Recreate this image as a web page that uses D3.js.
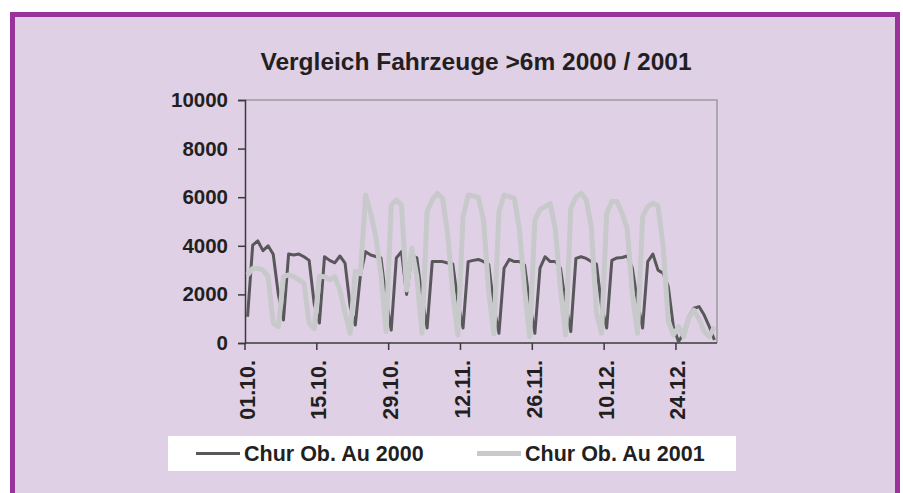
<!DOCTYPE html>
<html>
<head>
<meta charset="utf-8">
<script src="https://cdn.jsdelivr.net/npm/d3@7"></script>
<style>
  body { margin: 0; background: #fff; }
  svg { display: block; font-family: "Liberation Sans", Arial, sans-serif; font-weight: bold; }
</style>
</head>
<body>
<svg id="chart" width="903" height="493"></svg>
<script>
// daily counts, 01.10. - 31.12.
const series2000 = [
  1080, 4030, 4200, 3800, 4000, 3650, 2000, 950,
  3660, 3620, 3660, 3550, 3400, 1600, 820,
  3550, 3400, 3300, 3580, 3290, 1500, 740,
  2800, 3760, 3620, 3560, 3500, 1800, 530,
  3500, 3760, 2000, 3600, 3500, 1900, 620,
  3350, 3350, 3350, 3290, 3250, 1700, 620,
  3350, 3400, 3440, 3350, 3240, 1500, 400,
  3080, 3440, 3350, 3350, 3200, 1600, 400,
  3080, 3550, 3350, 3350, 3080, 1600, 470,
  3480, 3550, 3480, 3350, 3250, 1500, 620,
  3400, 3500, 3520, 3580, 3080, 1700, 620,
  3350, 3660, 3000, 2870, 2320, 670, 50,
  400, 1100, 1430, 1500, 1150, 670, 120
];
const series2001 = [
  2800, 3070, 3070, 3000, 2730, 810, 670,
  2730, 2800, 2730, 2600, 2460, 810, 600,
  2750, 2730, 2600, 2730, 2180, 1230, 400,
  2950, 2850, 6090, 5340, 4370, 2800, 470,
  5680, 5880, 5680, 2180, 3900, 2730, 400,
  5400, 5900, 6160, 5950, 4510, 2040, 330,
  5200, 6090, 6050, 5980, 5050, 2100, 380,
  5400, 6090, 6020, 5950, 4650, 2180, 260,
  5060, 5500, 5610, 5750, 4650, 2180, 330,
  5540, 6000, 6160, 5900, 4790, 1230, 400,
  5340, 5820, 5820, 5340, 4700, 2000, 400,
  5200, 5610, 5750, 5650, 4000, 900, 330,
  670, 260, 1050, 1350, 1000, 470, 260, 670
];
const seriesNames = ["Chur Ob. Au 2000", "Chur Ob. Au 2001"];
const xTickLabels = ["01.10.", "15.10.", "29.10.", "12.11.", "26.11.", "10.12.", "24.12."];
const yTicks = [0, 2000, 4000, 6000, 8000, 10000];

const fmtDay = d3.timeFormat("%d.%m.");
const days = d3.timeDays(new Date(2000, 9, 1), new Date(2001, 0, 1)).map(fmtDay);

const svg = d3.select("#chart");
const textColor = "#231f20";
const darkLine = "#58585a";
const lightLine = "#c8c9cb";

// frame
svg.append("rect")
  .attr("x", 12.5).attr("y", 14.5)
  .attr("width", 885).attr("height", 520)
  .attr("fill", "#e0d0e6")
  .attr("stroke", "#993399")
  .attr("stroke-width", 5);

svg.append("text")
  .attr("x", 476).attr("y", 70)
  .attr("text-anchor", "middle")
  .attr("font-size", 24.5)
  .attr("fill", textColor)
  .text("Vergleich Fahrzeuge >6m 2000 / 2001");

const x = d3.scaleBand().domain(days).range([245, 717]);
const y = d3.scaleLinear().domain([0, 10000]).range([343, 100]);
const cx = (i) => x(days[i]) + x.bandwidth() / 2;

// plot border (top/right)
svg.append("path")
  .attr("d", `M245,${y(10000)}H717V${y(0)}`)
  .attr("fill", "none")
  .attr("stroke", "#9a9a9a")
  .attr("stroke-width", 1.5);

const yAxis = svg.append("g")
  .attr("transform", "translate(245,0)")
  .call(d3.axisLeft(y).tickValues(yTicks).tickSize(7).tickPadding(10).tickFormat(d3.format("d")));
yAxis.select(".domain").attr("stroke", "#3a3a3a").attr("stroke-width", 1.5);
yAxis.selectAll(".tick line").attr("stroke", "#3a3a3a").attr("stroke-width", 1.5);
yAxis.selectAll(".tick text")
  .attr("font-size", 20.5)
  .attr("font-family", "Liberation Sans, Arial, sans-serif")
  .attr("font-weight", "bold")
  .attr("fill", textColor);

const xAxis = svg.append("g").attr("transform", `translate(0,${y(0)})`);
xAxis.append("line")
  .attr("x1", 245).attr("x2", 717)
  .attr("stroke", "#3a3a3a").attr("stroke-width", 1.5);
xAxis.selectAll("line.tick")
  .data(xTickLabels)
  .join("line")
  .attr("class", "tick")
  .attr("x1", (d) => x(d)).attr("x2", (d) => x(d))
  .attr("y1", 0).attr("y2", 7)
  .attr("stroke", "#3a3a3a").attr("stroke-width", 1.5);
xAxis.selectAll("text")
  .data(xTickLabels)
  .join("text")
  .attr("transform", (d) => `translate(${x(d) + 9.5},17) rotate(-90)`)
  .attr("text-anchor", "end")
  .attr("font-size", 21.5)
  .attr("fill", textColor)
  .text((d) => d);

const line = d3.line()
  .x((d, i) => cx(i))
  .y((d) => y(d));

svg.append("path")
  .datum(series2000)
  .attr("fill", "none")
  .attr("stroke", darkLine)
  .attr("stroke-width", 3)
  .attr("stroke-linejoin", "round")
  .attr("d", line);

svg.append("path")
  .datum(series2001)
  .attr("fill", "none")
  .attr("stroke", lightLine)
  .attr("stroke-width", 5)
  .attr("stroke-linejoin", "round")
  .attr("d", line);

// legend
const legend = svg.append("g");
legend.append("rect")
  .attr("x", 168).attr("y", 436)
  .attr("width", 568).attr("height", 35)
  .attr("fill", "#fff");

const legendItems = [
  { name: seriesNames[0], color: darkLine, width: 3, x0: 196 },
  { name: seriesNames[1], color: lightLine, width: 5, x0: 477 },
];
legendItems.forEach((it) => {
  legend.append("line")
    .attr("x1", it.x0).attr("x2", it.x0 + 44)
    .attr("y1", 453.5).attr("y2", 453.5)
    .attr("stroke", it.color).attr("stroke-width", it.width);
  legend.append("text")
    .attr("x", it.x0 + 48).attr("y", 461)
    .attr("font-size", 21.5)
    .attr("fill", textColor)
    .text(it.name);
});
</script>
</body>
</html>
